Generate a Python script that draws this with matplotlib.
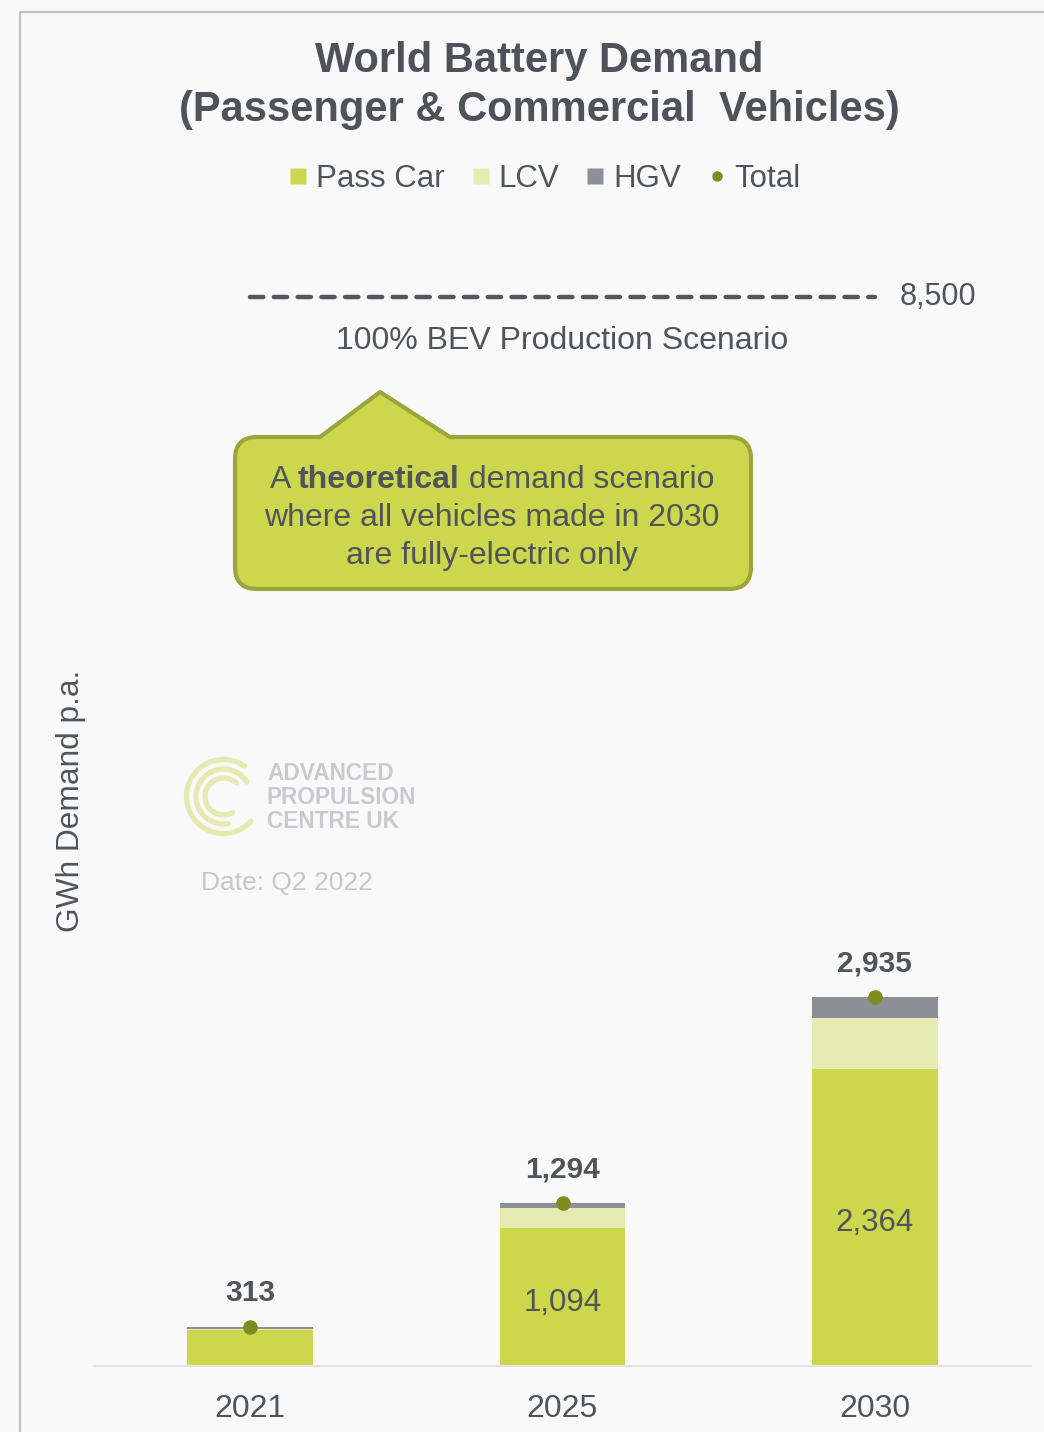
import numpy as np
import matplotlib
matplotlib.use("Agg")
import matplotlib.pyplot as plt
from matplotlib.patches import Rectangle, PathPatch, Arc
from matplotlib.path import Path
from matplotlib.lines import Line2D

plt.rcParams['font.family'] = ['Liberation Sans', 'DejaVu Sans']

# GWh per year, stacked by vehicle segment
years = ['2021', '2025', '2030']
pass_car = [286, 1094, 2364]
lcv = [9, 163, 404]
hgv = [18, 37, 167]
totals = [313, 1294, 2935]
inner_labels = ['', '1,094', '2,364']
bev_scenario = 8500

TEXT = '#50545b'
GREEN = '#ccd74c'
PALE = '#e6ebb2'
GREY = '#8c8f96'
OLIVE = '#808c1e'
BG = '#f9f9f9'

W, H = 1044, 1432
fig = plt.figure(figsize=(W / 100, H / 100), dpi=100, facecolor=BG)

# pixel-space overlay for frame, callout and logo
deco = fig.add_axes([0, 0, 1, 1], zorder=0)
deco.set_xlim(0, W)
deco.set_ylim(H, 0)
deco.axis('off')
deco.add_patch(Rectangle((19.5, 11.5), W + 40, H + 40, facecolor=BG,
                         edgecolor='#c2c3c7', lw=1.6))

ax = fig.add_axes([94 / W, (H - 1366) / H, (1031 - 94) / W, (1366 - 234) / H], zorder=1)
ax.patch.set_alpha(0)
x = np.arange(len(years))
bw = 0.403
ax.bar(x, pass_car, bw, color=GREEN, label='Pass Car')
ax.bar(x, lcv, bw, bottom=pass_car, color=PALE, label='LCV')
ax.bar(x, hgv, bw, bottom=np.add(pass_car, lcv), color=GREY, label='HGV')
ax.plot(x, totals, 'o', color=OLIVE, ms=9.5, zorder=5, label='Total')

for xi, t in zip(x, totals):
    ax.annotate(f'{t:,}', (xi, t), xytext=(0, 24), textcoords='offset points',
                ha='center', va='center', fontsize=21.5, weight='bold', color=TEXT)
for xi, p, s in zip(x, pass_car, inner_labels):
    if s:
        ax.annotate(s, (xi, p / 2), xytext=(0, -4), textcoords='offset points',
                    ha='center', va='center', fontsize=22.5, color=TEXT)

# 100% BEV scenario reference line
ax.plot([x[0], x[-1]], [bev_scenario, bev_scenario], color='#54575e', lw=3.2,
        dashes=(3.0, 2.35), dash_capstyle='round')
ax.annotate(f'{bev_scenario:,}', (x[-1], bev_scenario), xytext=(18, 0),
            textcoords='offset points', ha='left', va='center', fontsize=22, color=TEXT)
ax.annotate('100% BEV Production Scenario', (x[1], bev_scenario), xytext=(0, -32),
            textcoords='offset points', ha='center', va='center', fontsize=23, color=TEXT)

ax.set_xlim(-0.5, 2.5)
ax.set_ylim(0, 9000)
ax.set_xticks(x)
ax.set_xticklabels(years, fontsize=23, color=TEXT)
ax.tick_params(axis='x', length=0, pad=20)
ax.set_yticks([])
for side in ['top', 'right', 'left']:
    ax.spines[side].set_visible(False)
ax.spines['bottom'].set_color('#e2e2e2')
ax.spines['bottom'].set_linewidth(1.6)

fig.text(71.5 / W, 1 - 801 / H, 'GWh Demand p.a.', rotation=90, ha='center', va='center',
         fontsize=22.8, color=TEXT)

# title
fig.text(539 / W, 1 - 61 / H, 'World Battery Demand', ha='center', va='center',
         fontsize=30, weight='bold', color='#4f525a')
fig.text(539 / W, 1 - 110 / H, '(Passenger & Commercial  Vehicles)', ha='center', va='center',
         fontsize=30, weight='bold', color='#4f525a')

handles = [Line2D([], [], ls='none', marker='s', ms=11, color=GREEN, mec='none'),
           Line2D([], [], ls='none', marker='s', ms=11, color=PALE, mec='none'),
           Line2D([], [], ls='none', marker='s', ms=11, color=GREY, mec='none'),
           Line2D([], [], ls='none', marker='o', ms=7.5, color=OLIVE, mec='none')]
fig.legend(handles, ['Pass Car', 'LCV', 'HGV', 'Total'], loc='center',
           bbox_to_anchor=(545.5 / W, 1 - 179 / H), ncol=4, frameon=False,
           fontsize=22.5, labelcolor=TEXT, handlelength=0.5, handletextpad=0.32,
           columnspacing=0.9, borderpad=0, borderaxespad=0)

# callout box with a pointer
x0, x1, y0, y1, r = 235, 751, 437, 589, 22
verts = [(x0 + r, y0), (320, y0), (380, 392), (450, y0), (x1 - r, y0),
         (x1, y0), (x1, y0 + r), (x1, y1 - r), (x1, y1), (x1 - r, y1),
         (x0 + r, y1), (x0, y1), (x0, y1 - r), (x0, y0 + r), (x0, y0), (x0 + r, y0),
         (x0 + r, y0)]
codes = [Path.MOVETO, Path.LINETO, Path.LINETO, Path.LINETO, Path.LINETO,
         Path.CURVE3, Path.CURVE3, Path.LINETO, Path.CURVE3, Path.CURVE3,
         Path.LINETO, Path.CURVE3, Path.CURVE3, Path.LINETO, Path.CURVE3, Path.CURVE3,
         Path.CLOSEPOLY]
deco.add_patch(PathPatch(Path(verts, codes), facecolor='#cdd74e', edgecolor='#9ba53c',
                         lw=3.0, joinstyle='round'))

renderer = fig.canvas.get_renderer()


def centred_runs(cx, cy, runs, size):
    texts = [deco.text(0, cy, s, ha='left', va='center', fontsize=size, weight=w, color=TEXT)
             for s, w in runs]
    widths = [t.get_window_extent(renderer).width for t in texts]
    left = cx - sum(widths) / 2
    for t, w in zip(texts, widths):
        t.set_x(left)
        left += w


centred_runs(492, 480, [('A ', 'normal'), ('theoretical', 'bold'),
                        (' demand scenario', 'normal')], 23)
deco.text(492, 518, 'where all vehicles made in 2030', ha='center', va='center',
          fontsize=23, color=TEXT)
deco.text(492, 556, 'are fully-electric only', ha='center', va='center',
          fontsize=23, color=TEXT)

# faded logo (three open rings) and date stamp; y runs downward here
for rad, start, end in [(37, 42, 305), (27.5, 80, 328), (18.5, 60, 315)]:
    deco.add_patch(Arc((223.5, 796.5), 2 * rad, 2 * rad, theta1=start, theta2=end,
                       color='#e5ebb0', lw=3.8, capstyle='round'))
for i, line in enumerate(['ADVANCED', 'PROPULSION', 'CENTRE UK']):
    deco.text(267, 774 + 23.5 * i, line, ha='left', va='center', fontsize=16.3,
              weight='bold', color='#c9cacd')
deco.text(201, 883, 'Date: Q2 2022', ha='left', va='center', fontsize=19, color='#c6c7cb')

fig.savefig('out.png', dpi=100, facecolor=BG)
